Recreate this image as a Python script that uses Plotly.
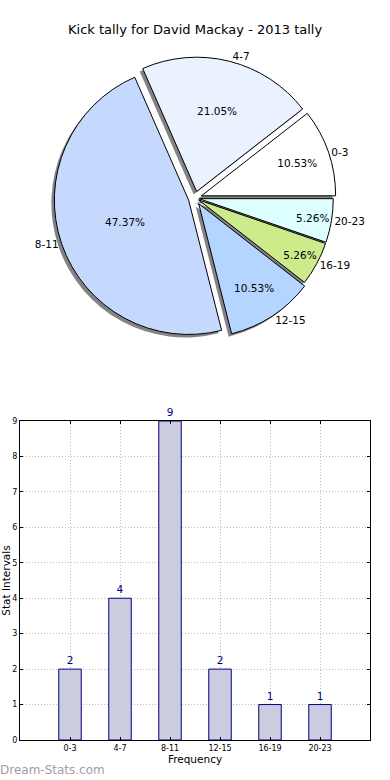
import plotly.graph_objects as go

categories = ["0-3", "4-7", "8-11", "12-15", "16-19", "20-23"]
counts = [2, 4, 9, 2, 1, 1]
pie_colors = ["#FFFFFF", "#EAF1FF", "#C5D9FF", "#B3D5FF", "#CDEB8B", "#DDFFFF"]
pulls = [0.05, 0.05, 0.05, 0.05, 0.03, 0.03]
title_text = "Kick tally for David Mackay - 2013 tally"

W, H = 390, 780
cx, cy, half = 195, 198, 141

# first slice starts at 3 o'clock going counterclockwise
start_rot = 90 - 360 * counts[0] / sum(counts)

def dom(cx, cy, half):
    return dict(x=[(cx - half) / W, (cx + half) / W],
                y=[1 - (cy + half) / H, 1 - (cy - half) / H])

fig = go.Figure()

# shadow
fig.add_trace(go.Pie(
    labels=categories, values=counts, sort=False, direction="counterclockwise",
    rotation=start_rot, pull=pulls, domain=dom(cx - 3, cy + 3, half),
    marker=dict(colors=["rgba(90,90,90,0.75)"] * 6, line=dict(width=0)),
    textinfo="none", hoverinfo="skip", showlegend=False))

# main pie with percentages
fig.add_trace(go.Pie(
    labels=categories, values=counts, sort=False, direction="counterclockwise",
    rotation=start_rot, pull=pulls, domain=dom(cx, cy, half),
    marker=dict(colors=pie_colors, line=dict(color="black", width=1)),
    texttemplate="%{percent:.2%}", textposition="inside",
    insidetextorientation="horizontal",
    textfont=dict(family="DejaVu Sans", size=10.5, color="black"),
    showlegend=False))

# outside labels
fig.add_trace(go.Pie(
    labels=categories, values=counts, sort=False, direction="counterclockwise",
    rotation=start_rot, pull=pulls, domain=dom(cx, cy, half),
    marker=dict(colors=["rgba(0,0,0,0)"] * 6, line=dict(width=0)),
    texttemplate="%{label}", textposition="outside",
    outsidetextfont=dict(family="DejaVu Sans", size=10.5, color="black"),
    hoverinfo="skip", showlegend=False))

# bar chart
fig.add_trace(go.Bar(
    x=categories, y=counts, width=0.45,
    marker=dict(color="#CCCCE0", line=dict(color="#000080", width=1)),
    text=[str(v) for v in counts], textposition="outside",
    textfont=dict(family="DejaVu Sans", size=10.5, color="#000080"),
    cliponaxis=False, showlegend=False, xaxis="x", yaxis="y"))

fig.update_layout(
    width=W, height=H, margin=dict(l=0, r=0, t=0, b=0),
    paper_bgcolor="white", plot_bgcolor="white",
    font=dict(family="DejaVu Sans", color="black"),
    xaxis=dict(domain=[20 / W, 370 / W], range=[-1, 6], type="category",
               automargin=False,
               showgrid=True, gridcolor="#BDBDBD", griddash="1px,2px", gridwidth=1,
               showline=True, linecolor="black", linewidth=1, mirror="allticks",
               ticks="inside", ticklen=3, tickcolor="black",
               tickfont=dict(size=8), zeroline=False,
               title=dict(text="Frequency", font=dict(size=10.5), standoff=2)),
    yaxis=dict(domain=[1 - 740 / H, 1 - 421 / H], range=[0, 9], dtick=1,
               automargin=False,
               showgrid=True, gridcolor="#BDBDBD", griddash="1px,2px", gridwidth=1,
               showline=True, linecolor="black", linewidth=1, mirror="allticks",
               ticks="inside", ticklen=3, tickcolor="black",
               tickfont=dict(size=8), zeroline=False,
               title=dict(text="Stat Intervals", font=dict(size=10.5), standoff=0)),
    annotations=[
        dict(text=title_text, x=0.5, y=1 - 30 / H, xref="paper", yref="paper",
             xanchor="center", yanchor="middle", showarrow=False,
             font=dict(size=13, family="DejaVu Sans", color="black")),
        dict(text="Dream-Stats.com", x=-0.005, y=1 - 770 / H, xref="paper",
             yref="paper", xanchor="left", yanchor="middle", showarrow=False,
             font=dict(size=12, color="#A0A0A0", family="DejaVu Sans")),
    ],
)

fig.write_html("out.html", config={"displayModeBar": False},
               post_script="document.body.style.margin='0px';document.body.style.overflow='hidden';")
